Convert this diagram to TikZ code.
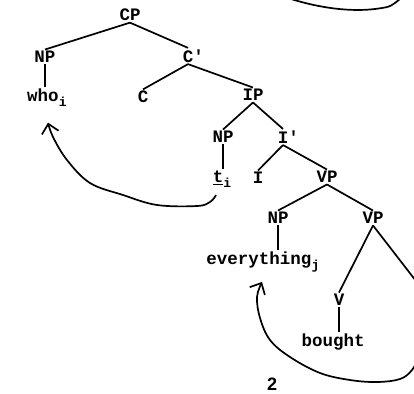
\documentclass[tikz,border=0pt]{standalone}
\usepackage{fontspec}
\newfontfamily\tw{Liberation Mono}
\newfontfamily\pg{Liberation Sans}
\usetikzlibrary{arrows.meta}
\newcommand{\subx}[1]{\raisebox{-0.55ex}{\fontsize{13}{13}\selectfont #1}}
\begin{document}
\begin{tikzpicture}[x=1pt,y=-1pt,
  lab/.style={font=\tw\bfseries\fontsize{17.5}{18}\selectfont, inner sep=1.5pt},
  edge/.style={line width=1.7pt},
  mv/.style={line width=1.7pt, -{Straight Barb[length=9pt,width=17pt,line width=1.7pt]}}]
\useasboundingbox (0,0) rectangle (414,393);
\node[lab] (cp) at (130,15) {CP};
\node[lab] (np1) at (45,57) {NP};
\node[lab] (cb) at (188,56) {C\rlap{'}};
\node[lab] (who) at (43,98) {who\rlap{\subx{i}}};
\node[lab] (c) at (143,97) {C};
\node[lab] (ip) at (253,95) {IP};
\node[lab] (np2) at (223,137) {NP};
\node[lab] (ib) at (283,137) {I\rlap{'}};
\node[lab] (t) at (218,179) {\underline{t}\rlap{\subx{i}}};
\node[lab] (i) at (258,178) {I};
\node[lab] (vp1) at (327,177) {VP};
\node[lab] (np3) at (278,218) {NP};
\node[lab] (vp2) at (373,218) {VP};
\node[lab] (ev) at (259,262) {everything\rlap{\subx{j}}};
\node[lab] (v) at (339,300) {V};
\node[lab] (bought) at (333,342) {bought};
\node[font=\pg\bfseries\fontsize{18}{18}\selectfont] (pn) at (272,384) {2};
\coordinate (offr) at (440,312);
\coordinate (offb) at (420,355);
% tree edges
\draw[edge] (cp.south) -- (np1.north);
\draw[edge] (cp.south) -- (cb.north);
\draw[edge] (np1.south) -- (np1.south |- who.north);
\draw[edge] (cb.south) -- (c.north);
\draw[edge] (cb.south) -- (ip.north);
\draw[edge] (ip.south) -- (np2.north);
\draw[edge] (ip.south) -- (ib.north);
\draw[edge] (np2.south) -- (np2.south |- t.north);
\draw[edge] (ib.south) -- (i.north);
\draw[edge] (ib.south) -- (vp1.north);
\draw[edge] (vp1.south) -- (np3.north);
\draw[edge] (vp1.south) -- (vp2.north);
\draw[edge] (np3.south) -- (np3.south |- ev.north);
\draw[edge] (vp2.south) -- (v.north);
\draw[edge] (vp2.south) -- (offr);
\draw[edge] (v.south) -- (v.south |- bought.north);
% movement arrows
\draw[mv] plot[smooth, tension=0.6] coordinates {([xshift=-2pt,yshift=-6pt]t.south) (210,202) (197,206) (157,205) (123,195) (90,183) (67,160) (53,137) ([xshift=5pt,yshift=-14pt]who.south)};
\draw[mv] plot[smooth, tension=0.6] coordinates {(offb) (412,370) (400,379) (377,382) (350,380) (320,373) (290,357) (270,340) (260,318) (257,297) ([xshift=3pt,yshift=-8pt]ev.south)};
% fragment of a previous arrow at the top
\draw[edge] (291,-1) .. controls (320,8) and (350,12) .. (375,9) .. controls (390,7) .. (400,-1);
\end{tikzpicture}
\end{document}
